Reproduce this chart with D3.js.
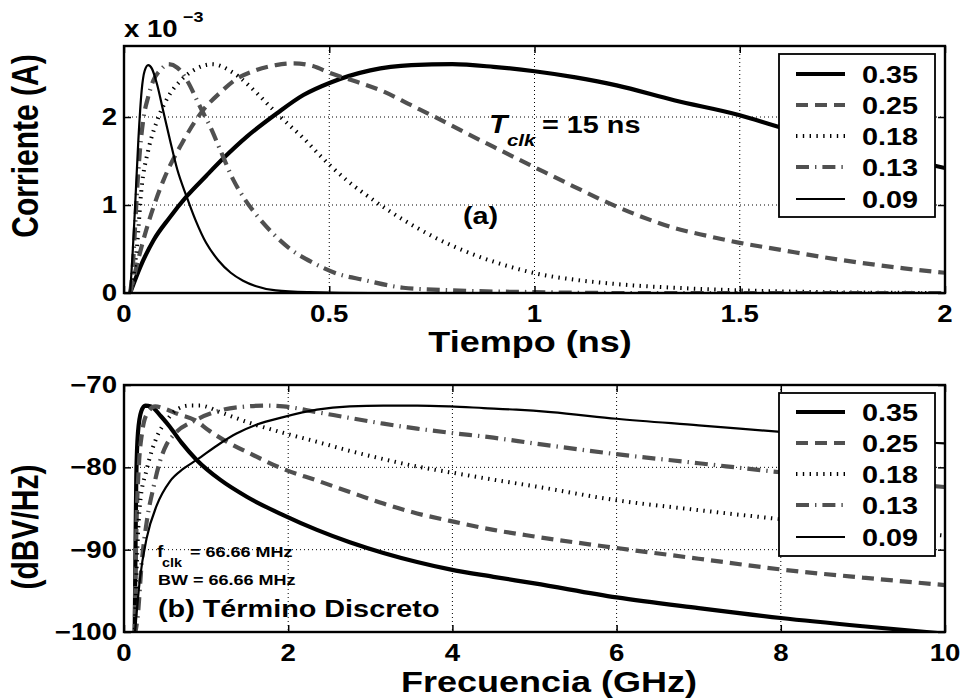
<!DOCTYPE html>
<html>
<head>
<meta charset="utf-8">
<script src="https://cdn.jsdelivr.net/npm/d3@7"></script>
<style>
  body { margin: 0; background: #fff; }
  svg text { font-family: "Liberation Sans", Arial, Helvetica, sans-serif; font-weight: bold; fill: #000; }
</style>
</head>
<body>
<svg id="chart" width="962" height="700"></svg>
<script>
// ---- Technology nodes (legend entries) ----
const nodes = ["0.35", "0.25", "0.18", "0.13", "0.09"];

// ---- (a) Current pulses: time (ns) and current (x 1e-3 A) ----
const t035 = [0.015, 0.04, 0.072, 0.11, 0.153, 0.2, 0.242, 0.3, 0.372, 0.437, 0.502, 0.6, 0.7, 0.8, 0.9, 1.0, 1.1, 1.2, 1.34, 1.5, 1.6, 1.8, 2.0];
const i035 = [0, 0.3, 0.6, 0.85, 1.1, 1.33, 1.53, 1.78, 2.04, 2.25, 2.39, 2.53, 2.59, 2.6, 2.57, 2.52, 2.45, 2.36, 2.19, 2.02, 1.88, 1.64, 1.42];

const t025 = [0.015, 0.047, 0.096, 0.141, 0.193, 0.235, 0.27, 0.32, 0.37, 0.413, 0.46, 0.502, 0.567, 0.632, 0.697, 0.762, 0.828, 0.909, 1.0, 1.096, 1.177, 1.259, 1.34, 1.42, 1.5, 1.6, 1.7, 1.8, 1.9, 2.0];
const i025 = [0, 0.6, 1.28, 1.7, 2.08, 2.28, 2.42, 2.53, 2.59, 2.61, 2.58, 2.5, 2.4, 2.29, 2.14, 1.99, 1.83, 1.64, 1.43, 1.21, 1.03, 0.87, 0.74, 0.65, 0.57, 0.49, 0.41, 0.34, 0.28, 0.23];

const t018 = [0.015, 0.031, 0.043, 0.059, 0.08, 0.104, 0.137, 0.169, 0.215, 0.267, 0.324, 0.364, 0.395, 0.437, 0.478, 0.502, 0.543, 0.6, 0.681, 0.762, 0.844, 0.925, 1.006, 1.1, 1.18, 1.26, 1.34, 1.5, 1.7, 2.0];
const i018 = [0, 0.5, 1.2, 1.62, 1.95, 2.2, 2.41, 2.53, 2.6, 2.5, 2.27, 2.08, 1.94, 1.76, 1.56, 1.45, 1.28, 1.08, 0.83, 0.62, 0.45, 0.32, 0.22, 0.15, 0.11, 0.08, 0.06, 0.03, 0.01, 0];

const t013 = [0.015, 0.021, 0.027, 0.033, 0.039, 0.047, 0.059, 0.072, 0.088, 0.108, 0.13, 0.153, 0.185, 0.21, 0.234, 0.267, 0.295, 0.324, 0.36, 0.405, 0.462, 0.519, 0.583, 0.68, 0.8, 1.0, 1.2, 2.0];
const i013 = [0, 0.26, 0.75, 1.25, 1.63, 1.97, 2.23, 2.42, 2.53, 2.6, 2.56, 2.42, 2.12, 1.89, 1.63, 1.28, 1.06, 0.88, 0.69, 0.5, 0.34, 0.22, 0.15, 0.06, 0.03, 0.01, 0, 0];

const t009 = [0.015, 0.021, 0.027, 0.035, 0.043, 0.05, 0.059, 0.068, 0.08, 0.095, 0.112, 0.13, 0.153, 0.175, 0.2, 0.23, 0.26, 0.29, 0.32, 0.37, 0.45, 0.6, 1.0, 2.0];
const i009 = [0, 0.45, 0.98, 1.74, 2.3, 2.52, 2.59, 2.55, 2.38, 2.08, 1.74, 1.4, 1.09, 0.82, 0.57, 0.37, 0.23, 0.14, 0.08, 0.03, 0.01, 0, 0, 0];

// ---- (b) Discrete-term spectrum: frequency (GHz) and level (dBV/Hz) ----
const f035 = [0.13, 0.14, 0.15, 0.17, 0.21, 0.26, 0.33, 0.45, 0.56, 0.7, 0.885, 1.17, 1.5, 1.94, 2.35, 2.75, 3.16, 3.57, 3.97, 4.5, 5.0, 6.0, 7.0, 8.0, 9.0, 10.0];
const p035 = [-100.5, -90, -81, -75.8, -73.2, -72.5, -72.6, -73.8, -75.1, -77.0, -79.1, -81.5, -83.6, -85.8, -87.6, -89.1, -90.4, -91.5, -92.4, -93.3, -94.1, -95.8, -97.1, -98.3, -99.3, -100.2];

const f025 = [0.13, 0.15, 0.18, 0.22, 0.28, 0.38, 0.5, 0.65, 0.87, 1.03, 1.29, 1.53, 1.94, 2.35, 2.75, 3.16, 3.57, 3.97, 4.5, 5.0, 6.0, 7.0, 8.0, 9.0, 10.0];
const p025 = [-100.5, -88, -80, -75.8, -73.5, -72.6, -72.9, -73.5, -74.3, -75.5, -77.1, -78.3, -80.2, -81.6, -83.0, -84.4, -85.6, -86.5, -87.6, -88.4, -89.8, -91.1, -92.4, -93.4, -94.3];

const f018 = [0.13, 0.16, 0.195, 0.276, 0.4, 0.52, 0.64, 0.8, 0.93, 1.17, 1.53, 1.9, 2.35, 2.75, 3.16, 3.57, 3.97, 4.5, 5.0, 6.0, 7.0, 8.0, 9.0, 10.0];
const p018 = [-100.5, -90.5, -84.4, -80.3, -76.3, -74.3, -73.0, -72.5, -72.5, -73.3, -74.6, -75.7, -76.9, -78.0, -79.0, -79.9, -80.6, -81.5, -82.3, -84.0, -85.2, -86.3, -87.3, -88.3];

const f013 = [0.13, 0.17, 0.215, 0.28, 0.36, 0.44, 0.52, 0.6, 0.865, 1.21, 1.5, 1.74, 1.94, 2.35, 2.75, 3.16, 3.57, 3.97, 4.5, 5.0, 6.0, 7.0, 8.0, 9.0, 10.0];
const p013 = [-100.5, -97.8, -91.7, -86.4, -82.4, -79.2, -77.2, -76.1, -74.3, -73.0, -72.6, -72.5, -72.6, -73.3, -74.0, -74.7, -75.3, -75.8, -76.4, -77.1, -78.4, -79.5, -80.6, -81.5, -82.4];

const f009 = [0.13, 0.16, 0.195, 0.276, 0.4, 0.56, 0.72, 0.885, 1.17, 1.37, 1.62, 1.94, 2.35, 2.75, 3.16, 3.57, 3.97, 4.38, 4.78, 5.2, 6.0, 7.0, 8.0, 9.0, 10.0];
const p009 = [-100.5, -97, -93.5, -88.6, -84.6, -81.7, -80.2, -79.1, -77.1, -75.9, -74.8, -73.9, -73.0, -72.6, -72.5, -72.5, -72.6, -72.8, -73.0, -73.3, -74.1, -74.9, -75.7, -76.5, -77.1];

// ---- Axis ticks ----
const timeTicks = [0, 0.5, 1, 1.5, 2];
const currentTicks = [0, 1, 2];
const freqTicks = [0, 2, 4, 6, 8, 10];
const levelTicks = [-100, -90, -80, -70];

// ---- Line styles per node ----
const styles = [
  { stroke: "#000000", width: 4.2, dash: null },
  { stroke: "#505050", width: 4.2, dash: "12,7" },
  { stroke: "#000000", width: 4.0, dash: "1.4,5.4" },
  { stroke: "#505050", width: 4.2, dash: "13,6,1.4,6" },
  { stroke: "#000000", width: 2.2, dash: null }
];

const SX = 1.2;               // horizontal stretch of all lettering
const svg = d3.select("#chart");

function txt(g, str, x, y, size, anchor, extra) {
  const t = g.append("text")
    .attr("transform", `translate(${x},${y}) scale(${SX},1)` + (extra && extra.rotate ? ` rotate(${extra.rotate})` : ""))
    .attr("text-anchor", anchor || "start")
    .style("font-size", size + "px");
  if (extra && extra.italic) t.style("font-style", "italic");
  t.text(str);
  return t;
}

function fmtMinus(v) { return (v < 0 ? "\u2212" : "") + Math.abs(v); }

function panel(opts) {
  const { left, top, right, bottom, xDomain, yDomain, xTicks, yTicks, series, id } = opts;
  const x = d3.scaleLinear().domain(xDomain).range([left, right]);
  const y = d3.scaleLinear().domain(yDomain).range([bottom, top]);
  const g = svg.append("g");

  g.append("defs").append("clipPath").attr("id", id)
    .append("rect").attr("x", left).attr("y", top).attr("width", right - left).attr("height", bottom - top);

  // dotted grid
  const grid = g.append("g").attr("stroke", "#000").attr("stroke-width", 1).attr("stroke-dasharray", "1,3");
  xTicks.filter(v => v > xDomain[0] && v < xDomain[1]).forEach(v => {
    grid.append("line").attr("x1", x(v)).attr("x2", x(v)).attr("y1", top).attr("y2", bottom);
  });
  yTicks.filter(v => v > yDomain[0] && v < yDomain[1]).forEach(v => {
    grid.append("line").attr("x1", left).attr("x2", right).attr("y1", y(v)).attr("y2", y(v));
  });

  // curves
  const line = d3.line().x(d => x(d[0])).y(d => y(d[1])).curve(d3.curveMonotoneX);
  const lines = g.append("g").attr("clip-path", `url(#${id})`);
  series.forEach((s, k) => {
    const st = styles[k];
    lines.append("path")
      .attr("d", line(d3.zip(s[0], s[1])))
      .attr("fill", "none")
      .attr("stroke", st.stroke)
      .attr("stroke-width", st.width)
      .attr("stroke-dasharray", st.dash)
      .attr("stroke-linejoin", "round");
  });

  // axes: bottom/left with labels, top/right mirrored ticks, all pointing inward
  const tl = 7;
  const ax = g.append("g");
  ax.append("g").attr("transform", `translate(0,${bottom})`)
    .call(d3.axisBottom(x).tickValues(xTicks).tickSize(-tl).tickFormat(""));
  ax.append("g").attr("transform", `translate(0,${top})`)
    .call(d3.axisTop(x).tickValues(xTicks).tickSize(-tl).tickFormat(""));
  ax.append("g").attr("transform", `translate(${left},0)`)
    .call(d3.axisLeft(y).tickValues(yTicks).tickSize(-tl).tickFormat(""));
  ax.append("g").attr("transform", `translate(${right},0)`)
    .call(d3.axisRight(y).tickValues(yTicks).tickSize(-tl).tickFormat(""));
  ax.selectAll(".domain").remove();
  ax.selectAll(".tick line").attr("stroke", "#000").attr("stroke-width", 1.5);

  g.append("rect").attr("x", left).attr("y", top).attr("width", right - left).attr("height", bottom - top)
    .attr("fill", "none").attr("stroke", "#000").attr("stroke-width", 2.4);

  // tick labels
  xTicks.forEach(v => txt(g, String(v), x(v), bottom + 29, 23, "middle"));
  yTicks.forEach(v => txt(g, fmtMinus(v), left - 7, y(v) + 8, 23, "end"));

  return { g, x, y };
}

function legend(g, lx, ly, w, h, rowY) {
  g.append("rect").attr("x", lx).attr("y", ly).attr("width", w).attr("height", h)
    .attr("fill", "#fff").attr("stroke", "#000").attr("stroke-width", 1.8);
  nodes.forEach((n, k) => {
    const st = styles[k];
    const yy = rowY[k];
    g.append("line").attr("x1", lx + 17).attr("x2", lx + 66).attr("y1", yy).attr("y2", yy)
      .attr("stroke", st.stroke).attr("stroke-width", st.width).attr("stroke-dasharray", st.dash);
    txt(g, n, lx + 83, yy + 9, 24, "start");
  });
}

// ---------- Panel (a) ----------
const A = panel({
  id: "clipA", left: 124, top: 46, right: 945, bottom: 293,
  xDomain: [0, 2], yDomain: [0, 2.807],
  xTicks: timeTicks, yTicks: currentTicks,
  series: [[t035, i035], [t025, i025], [t018, i018], [t013, i013], [t009, i009]]
});
legend(A.g, 779, 54, 156, 163, [74, 105, 136, 167, 199]);

// exponent marker
txt(A.g, "x 10", 124, 37, 23, "start");
txt(A.g, "\u22123", 183, 22, 15, "start");

// clock period annotation
txt(A.g, "T", 489, 133, 25, "start", { italic: true });
txt(A.g, "clk", 507, 146, 17, "start", { italic: true });
txt(A.g, "= 15 ns", 542, 133, 24, "start");
txt(A.g, "(a)", 463, 224, 24, "start");

// axis labels
txt(A.g, "Tiempo (ns)", 530, 352, 30, "middle");
txt(A.g, "Corriente (A)", 38, 146, 30, "middle", { rotate: -90 });

// ---------- Panel (b) ----------
const B = panel({
  id: "clipB", left: 124, top: 385, right: 945, bottom: 632,
  xDomain: [0, 10], yDomain: [-100, -70],
  xTicks: freqTicks, yTicks: levelTicks,
  series: [[f035, p035], [f025, p025], [f018, p018], [f013, p013], [f009, p009]]
});
legend(B.g, 779, 393, 156, 163, [412, 443, 474, 505, 537]);

txt(B.g, "f", 157, 557, 16, "start");
txt(B.g, "clk", 162, 567, 12, "start");
txt(B.g, "= 66.66 MHz", 190, 557, 15, "start");
txt(B.g, "BW = 66.66 MHz", 158, 585, 15, "start");
txt(B.g, "(b) T\u00e9rmino Discreto", 158, 617, 24, "start");

txt(B.g, "Frecuencia (GHz)", 549, 692, 30, "middle");
txt(B.g, "(dBV/Hz)", 38, 527, 30, "middle", { rotate: -90 });
</script>
</body>
</html>
